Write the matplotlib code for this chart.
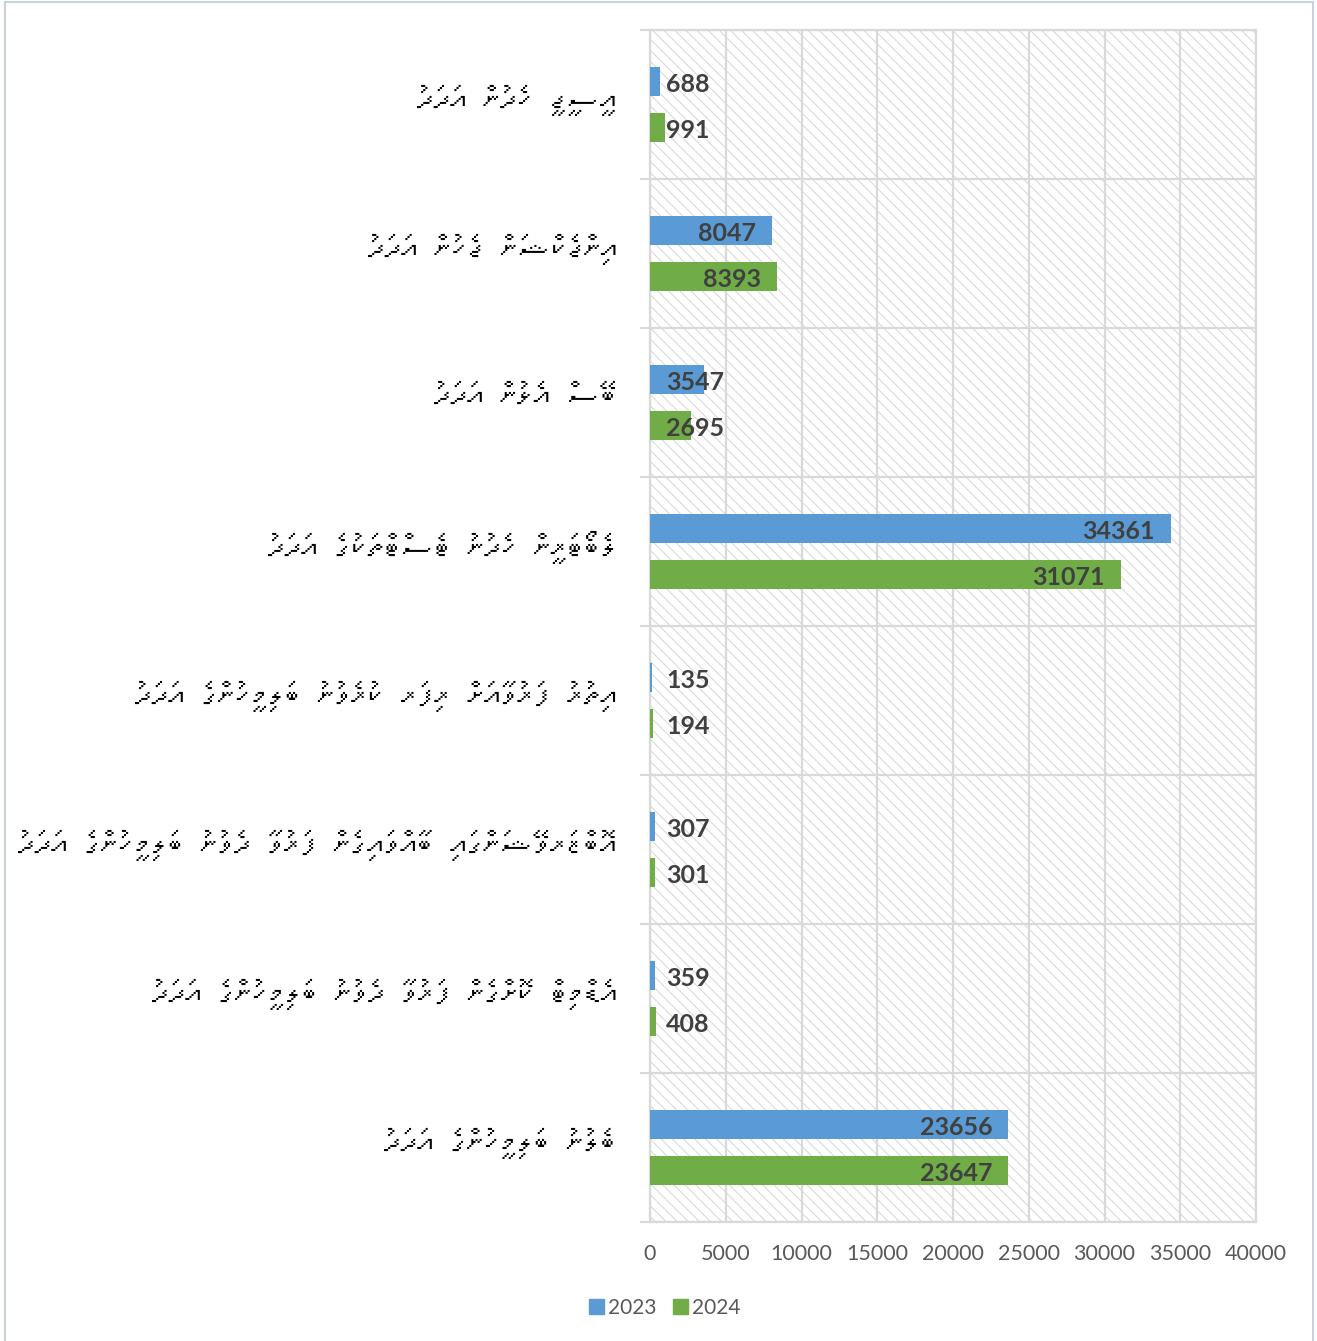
import unicodedata
import matplotlib
matplotlib.use("Agg")
import matplotlib.pyplot as plt
from matplotlib import font_manager
from matplotlib.patches import Rectangle, Patch

# categories top -> bottom (Dhivehi, logical order)
categories = [
    "އީސީޖީ ހެދުން އަދަދު",
    "އިންޖެކްޝަން ޖެހުން އަދަދު",
    "ބޭސް އެޅުން އަދަދު",
    "ލެބޯޓަރީން ހެދުނު ޓެސްޓްތަކުގެ އަދަދު",
    "އިތުރު ފަރުވާއަށް ރިފަރ ކުރެވުނު ބަލިމީހުންގެ އަދަދު",
    "އޮބްޒަރވޭޝަންގައި ބާއްވައިގެން ފަރުވާ ދެވުނު ބަލިމީހުންގެ އަދަދު",
    "އެޑްމިޓް ކޮށްގެން ފަރުވާ ދެވުނު ބަލިމީހުންގެ އަދަދު",
    "ބެލުނު ބަލިމީހުންގެ އަދަދު",
]
vals_2023 = [688, 8047, 3547, 34361, 135, 307, 359, 23656]
vals_2024 = [991, 8393, 2695, 31071, 194, 301, 408, 23647]
series_names = ["2023", "2024"]
x_ticks = [0, 5000, 10000, 15000, 20000, 25000, 30000, 35000, 40000]

BLUE = "#5b9bd5"
GREEN = "#70ad47"
GRID = "#d9d9d9"
TXT = "#595959"
LBL = "#404040"


def find_thaana_font():
    try:
        from fontTools.ttLib import TTFont
    except Exception:
        return None
    for f in font_manager.fontManager.ttflist:
        try:
            tt = TTFont(f.fname, fontNumber=0, lazy=True)
            cmap = tt.getBestCmap()
            if cmap and 0x0786 in cmap:
                return f.name
        except Exception:
            pass
    return None


def visual_rtl(s):
    # matplotlib has no bidi: reverse base+mark clusters, keep marks after base
    clusters = []
    for ch in s:
        if clusters and unicodedata.combining(ch):
            clusters[-1] += ch
        else:
            clusters.append(ch)
    return "".join(reversed(clusters))


thaana = find_thaana_font()
lbl_family = [thaana, "DejaVu Sans"] if thaana else ["DejaVu Sans"]

plt.rcParams["font.family"] = ["Lato", "DejaVu Sans"]
plt.rcParams["hatch.linewidth"] = 0.7

W, H = 1317, 1341
fig = plt.figure(figsize=(W / 100, H / 100), dpi=100)
fig.patch.set_facecolor("white")
ax = fig.add_axes([650 / W, 1 - 1222 / H, 606 / W, 1192 / H])

# hatched plot area
ax.patch.set_facecolor("white")
ax.add_patch(Rectangle((0, 0), 1, 1, transform=ax.transAxes, facecolor="white",
                       edgecolor="#d6d6d6", hatch="\\\\\\", linewidth=0, zorder=0))

n = len(categories)
ys = list(range(n))
h = 0.195
off = 0.155
ax.barh([y - off for y in ys], vals_2023, height=h, color=BLUE, zorder=3, label=series_names[0])
ax.barh([y + off for y in ys], vals_2024, height=h, color=GREEN, zorder=3, label=series_names[1])

ax.set_xlim(0, 40000)
ax.set_ylim(n - 0.5, -0.5)

px_per_unit = 606 / 40000
pad = 16
for vals, dy in ((vals_2023, -off), (vals_2024, off)):
    for y, v in zip(ys, vals):
        txt_w = len(str(v)) * 14.8
        if v * px_per_unit >= txt_w + 2 * pad:
            ax.annotate(str(v), xy=(v, y + dy), xytext=(-pad, -3), textcoords="offset pixels",
                        ha="right", va="center", fontsize=18, fontweight="bold", color=LBL, zorder=4)
        else:
            ax.annotate(str(v), xy=(0, y + dy), xytext=(pad, -3), textcoords="offset pixels",
                        ha="left", va="center", fontsize=18, fontweight="bold", color=LBL, zorder=4)

# category labels (right-to-left script)
ax.set_yticks(ys)
ax.set_yticklabels([])
ax.set_yticks([y + 0.5 for y in range(-1, n)], minor=True)
for y, c in zip(ys, categories):
    ax.annotate(visual_rtl(c), xy=(0, y), xycoords=("axes fraction", "data"),
                xytext=(-33, 4), textcoords="offset pixels", ha="right", va="center",
                fontsize=24, family=lbl_family, color="black")

ax.tick_params(axis="y", which="major", length=0)
ax.tick_params(axis="y", which="minor", length=7, width=1.5, color=GRID)
ax.set_xticks(x_ticks)
ax.set_xticklabels([str(t) for t in x_ticks])
ax.tick_params(axis="x", length=0, pad=16, labelsize=15.5, labelcolor=TXT)

ax.grid(axis="x", which="major", color=GRID, linewidth=1.6, zorder=1)
ax.grid(axis="y", which="minor", color=GRID, linewidth=1.6, zorder=1)
ax.set_axisbelow(True)
for sp in ax.spines.values():
    sp.set_color(GRID)
    sp.set_linewidth(1.6)

handles = [Patch(color=BLUE, label=series_names[0]), Patch(color=GREEN, label=series_names[1])]
leg = fig.legend(handles=handles, loc="center", bbox_to_anchor=(665 / W, 1 - 1308 / H),
                 ncol=2, frameon=False, fontsize=15, handlelength=0.7, handleheight=0.7,
                 handletextpad=0.2, columnspacing=0.8)
for t in leg.get_texts():
    t.set_color(TXT)

# outer chart border
fig.patches.append(Rectangle((5 / W, -0.01), 1308 / W, 1.01 - 2 / H, transform=fig.transFigure,
                             fill=False, edgecolor="#c9d1dc", linewidth=1.5))

fig.savefig("out.png", dpi=100)
